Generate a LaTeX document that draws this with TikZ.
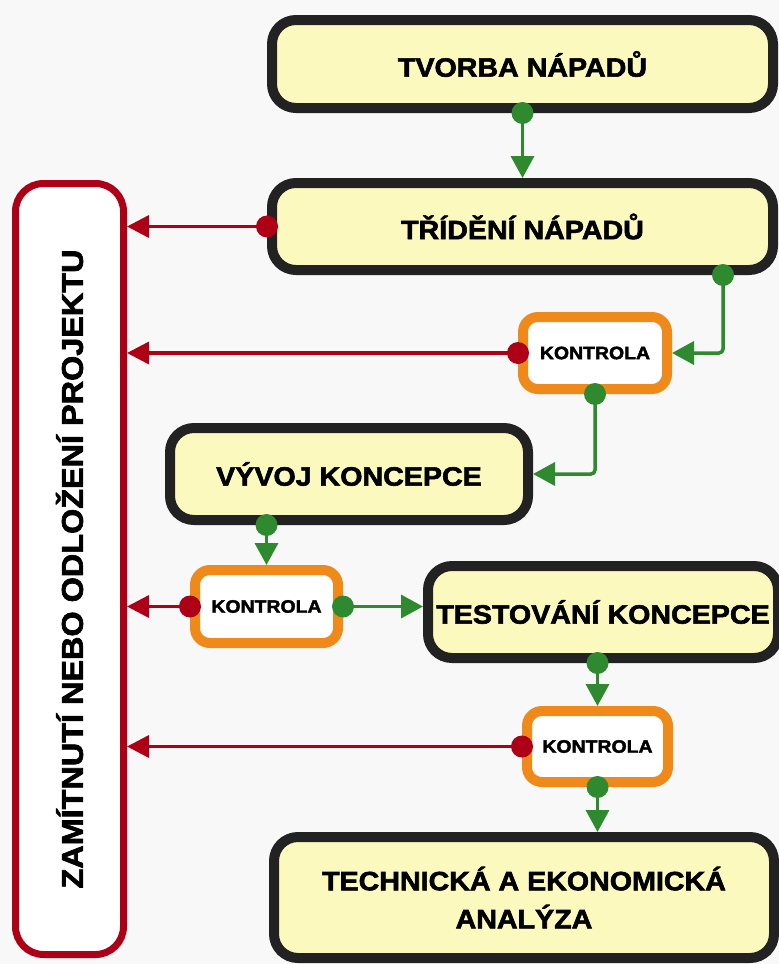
\documentclass[tikz,border=0pt]{standalone}
\usepackage{fontspec}
\setmainfont{DejaVu Sans}
\newfontfamily\heavy[UprightFont={* Bold},FakeBold=2.2,FakeStretch=1.08]{Liberation Sans}
\usetikzlibrary{arrows.meta}
\definecolor{bg}{HTML}{F8F8F8}
\definecolor{boxfill}{HTML}{FCF9BE}
\definecolor{boxline}{HTML}{222222}
\definecolor{korange}{HTML}{EF8A1A}
\definecolor{okgreen}{HTML}{2F8A2F}
\definecolor{nored}{HTML}{AD0016}
\tikzset{
	bigbox/.style={draw=boxline,fill=boxfill,line width=10pt,rounded corners=24pt,inner sep=0pt,align=center,font=\fontsize{26.5}{38}\heavy},
	kbox/.style={draw=korange,fill=white,line width=10pt,rounded corners=15pt,inner sep=0pt,font=\fontsize{18}{20}\heavy},
	rejbox/.style={draw=nored,fill=white,line width=7pt,rounded corners=28pt,inner sep=0pt},
	okline/.style={draw=okgreen,line width=3.5pt,rounded corners=4pt,-{Triangle[length=22pt,width=23pt]}},
	noline/.style={draw=nored,line width=3.5pt,-{Triangle[length=22pt,width=22pt]}},
}
\begin{document}
\begin{tikzpicture}[x=1pt,y=-1pt]
		\clip (0,0) rectangle (779,964);
		\fill[bg] (0,0) rectangle (779,964);
		% boxes
		\node[bigbox,minimum width=501pt,minimum height=88pt] (tvorba) at (522.5,64){TVORBA NÁPADŮ};
		\node[bigbox,minimum width=501pt,minimum height=87pt] (trideni) at (522.5,226.5){TŘÍDĚNÍ NÁPADŮ};
		\node[kbox,minimum width=144pt,minimum height=72pt] (k1) at (595,353){KONTROLA};
		\node[bigbox,minimum width=358pt,minimum height=92pt] (vyvoj) at (349,474){VÝVOJ KONCEPCE};
		\node[kbox,minimum width=143pt,minimum height=73pt] (k2) at (266.5,606.5){KONTROLA};
		\node[bigbox,minimum width=350pt,minimum height=92pt] (test) at (603,612){TESTOVÁNÍ KONCEPCE};
		\node[kbox,minimum width=141pt,minimum height=71pt] (k3) at (597.5,746.5){KONTROLA};
		\node[bigbox,minimum width=500pt,minimum height=121pt] (analyza) at (524,897.5){TECHNICKÁ A EKONOMICKÁ\\ANALÝZA};
		\node[rejbox,minimum width=108pt,minimum height=771pt] (rej) at (69.5,569){};
		\node[rotate=90,font=\fontsize{30}{34}\heavy] (rejtext) at (rej.center){ZAMÍTNUTÍ NEBO ODLOŽENÍ PROJEKTU};
		% green: go on
		\draw[okline] (tvorba.south) -- (trideni.north);
		\draw[okline] ([xshift=200.5pt]trideni.south) |- (k1.east);
		\draw[okline] (k1.south) |- (vyvoj.east);
		\draw[okline] (vyvoj.south -| k2.north) -- (k2.north);
		\draw[okline] (k2.east) -- (k2.east -| test.west);
		\draw[okline] (test.south -| k3.north) -- (k3.north);
		\draw[okline] (k3.south) -- (k3.south |- analyza.north);
		% red: stop
		\draw[noline] (trideni.west) -- (trideni.west -| rej.east);
		\draw[noline] (k1.west) -- (k1.west -| rej.east);
		\draw[noline] (k2.west) -- (k2.west -| rej.east);
		\draw[noline] (k3.west) -- (k3.west -| rej.east);
		% dots
		\fill[okgreen] (tvorba.south) circle (11pt);
		\fill[okgreen] ([xshift=200.5pt]trideni.south) circle (11pt);
		\fill[okgreen] (k1.south) circle (11pt);
		\fill[okgreen] (vyvoj.south -| k2.north) circle (11pt);
		\fill[okgreen] (k2.east) circle (11pt);
		\fill[okgreen] (test.south -| k3.north) circle (11pt);
		\fill[okgreen] (k3.south) circle (11pt);
		\fill[nored] (trideni.west) circle (11pt);
		\fill[nored] (k1.west) circle (11pt);
		\fill[nored] (k2.west) circle (11pt);
		\fill[nored] (k3.west) circle (11pt);
	\end{tikzpicture}
\end{document}
